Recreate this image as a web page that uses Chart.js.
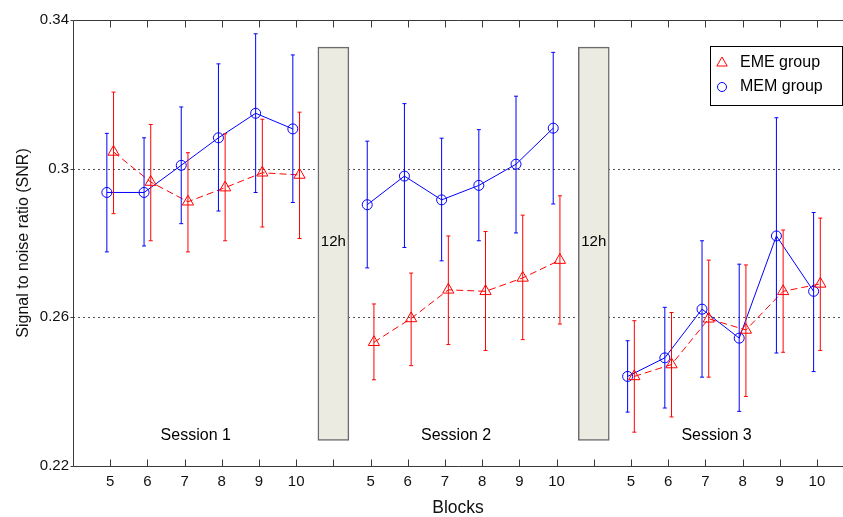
<!DOCTYPE html>
<html>
<head>
<meta charset="utf-8">
<script src="https://cdn.jsdelivr.net/npm/chart.js@4"></script>
<style>
  html, body { margin: 0; padding: 0; background: #fff; }
  #wrap { width: 843px; height: 517px; }
</style>
</head>
<body>
<div id="wrap"><canvas id="snrChart" width="843" height="517"></canvas></div>
<script>
// blocks per session and the tick labels along the x axis (gap ticks have no label)
const blocks = [5, 6, 7, 8, 9, 10];
const sessions = ["Session 1", "Session 2", "Session 3"];
const xTickLabels = ["5", "6", "7", "8", "9", "10", "", "5", "6", "7", "8", "9", "10", "", "5", "6", "7", "8", "9", "10"];
const yTickValues = [0.22, 0.26, 0.30, 0.34];
const yGridValues = [0.26, 0.30];

// MEM group (blue circles), sessions 1-3 one after another
const memMean  = [0.2936, 0.2936, 0.3009, 0.3083, 0.3149, 0.3107,  0.2903, 0.2980, 0.2916, 0.2955, 0.3012, 0.3109,  0.2441, 0.2491, 0.2622, 0.2544, 0.2819, 0.2670];
const memUpper = [0.3095, 0.3083, 0.3166, 0.3282, 0.3363, 0.3306,  0.3074, 0.3175, 0.3082, 0.3105, 0.3195, 0.3313,  0.2537, 0.2627, 0.2806, 0.2743, 0.3137, 0.2882];
const memLower = [0.2776, 0.2792, 0.2852, 0.2886, 0.2936, 0.2909,  0.2733, 0.2788, 0.2752, 0.2806, 0.2827, 0.2905,  0.2345, 0.2356, 0.2439, 0.2347, 0.2504, 0.2454];

// EME group (red triangles)
const emeMean  = [0.3045, 0.2964, 0.2911, 0.2949, 0.2989, 0.2983,  0.2533, 0.2597, 0.2674, 0.2670, 0.2706, 0.2754,  0.2441, 0.2473, 0.2596, 0.2566, 0.2670, 0.2690];
const emeUpper = [0.3206, 0.3119, 0.3043, 0.3094, 0.3133, 0.3152,  0.2636, 0.2719, 0.2819, 0.2831, 0.2875, 0.2927,  0.2591, 0.2613, 0.2754, 0.2741, 0.2835, 0.2867];
const emeLower = [0.2879, 0.2806, 0.2776, 0.2806, 0.2843, 0.2812,  0.2432, 0.2470, 0.2527, 0.2511, 0.2540, 0.2582,  0.2291, 0.2332, 0.2439, 0.2387, 0.2506, 0.2511];

// the two 12h breaks between sessions
const breakPos = [7, 14];
const breakLabel = "12h";
const breakRange = [0.2269, 0.3327];

const FONT = "'Liberation Sans', Arial, Helvetica, sans-serif";

// x position on the axis of a block inside a session
function xPos(s, b) {
    return s * 7 + b + 1;
}

function buildSeries(mean, low, high, shift) {
    const pts = [], lo = [], hi = [];
    for (let s = 0; s < sessions.length; s++) {
        for (let b = 0; b < blocks.length; b++) {
            const i = s * blocks.length + b;
            pts.push({ x: xPos(s, b) + shift, y: mean[i] });
            lo.push(low[i]);
            hi.push(high[i]);
        }
        if (s < sessions.length - 1) {
            // null point breaks the line between sessions
            pts.push({ x: breakPos[s], y: null });
            lo.push(null);
            hi.push(null);
        }
    }
    return { pts, lo, hi };
}

const eme = buildSeries(emeMean, emeLower, emeUpper, 0.09);
const mem = buildSeries(memMean, memLower, memUpper, -0.09);

// frame, dotted grid and inward ticks (MATLAB look)
const framePlugin = {
    id: "frame",
    beforeDatasetsDraw(chart) {
        const { ctx, chartArea: a, scales } = chart;
        ctx.save();
        ctx.strokeStyle = "#555";
        ctx.lineWidth = 1;
        ctx.setLineDash([2, 3]);
        yGridValues.forEach(v => {
            const y = Math.round(scales.y.getPixelForValue(v)) + 0.5;
            ctx.beginPath();
            ctx.moveTo(a.left, y);
            ctx.lineTo(a.right, y);
            ctx.stroke();
        });
        ctx.setLineDash([]);
        ctx.strokeStyle = "#3a3a3a";
        const top = Math.round(a.top) + 0.5, bot = Math.round(a.bottom) + 0.5, left = Math.round(a.left) + 0.5;
        ctx.beginPath();
        ctx.moveTo(a.right, top);
        ctx.lineTo(left, top);
        ctx.lineTo(left, bot);
        ctx.lineTo(a.right, bot);
        ctx.stroke();
        for (let i = 1; i <= xTickLabels.length; i++) {
            const x = Math.round(scales.x.getPixelForValue(i)) + 0.5;
            ctx.beginPath();
            ctx.moveTo(x, bot);
            ctx.lineTo(x, bot - 7);
            ctx.moveTo(x, top);
            ctx.lineTo(x, top + 7);
            ctx.stroke();
        }
        yTickValues.forEach(v => {
            const y = Math.round(scales.y.getPixelForValue(v)) + 0.5;
            ctx.beginPath();
            ctx.moveTo(left, y);
            ctx.lineTo(left - 3, y);
            ctx.stroke();
        });
        ctx.restore();
    },
    afterDatasetsDraw(chart) {
        const { ctx, scales } = chart;
        ctx.save();
        // error bars
        chart.data.datasets.forEach(ds => {
            if (!ds.errLow) return;
            ctx.strokeStyle = ds.borderColor;
            ctx.lineWidth = 1;
            ds.data.forEach((p, i) => {
                if (p.y === null) return;
                const x = scales.x.getPixelForValue(p.x);
                const y1 = scales.y.getPixelForValue(ds.errLow[i]);
                const y2 = scales.y.getPixelForValue(ds.errHigh[i]);
                ctx.beginPath();
                ctx.moveTo(x, y1);
                ctx.lineTo(x, y2);
                ctx.moveTo(x - 2, y1);
                ctx.lineTo(x + 2, y1);
                ctx.moveTo(x - 2, y2);
                ctx.lineTo(x + 2, y2);
                ctx.stroke();
            });
        });
        // 12h text in the break boxes
        ctx.fillStyle = "#000";
        ctx.font = "15px " + FONT;
        ctx.textAlign = "center";
        ctx.textBaseline = "middle";
        const mid = (breakRange[0] + breakRange[1]) / 2;
        breakPos.forEach(x => {
            ctx.fillText(breakLabel, scales.x.getPixelForValue(x), scales.y.getPixelForValue(mid) - 2);
        });
        // session names
        ctx.font = "16px " + FONT;
        sessions.forEach((name, s) => {
            ctx.fillText(name, scales.x.getPixelForValue(s * 7 + 3.3), 436);
        });
        // legend box
        ctx.fillStyle = "#fff";
        ctx.fillRect(710.5, 46.5, 132, 59);
        ctx.strokeStyle = "#000";
        ctx.lineWidth = 1;
        ctx.strokeRect(710.5, 46.5, 132, 59);
        const items = [
            { ds: chart.data.datasets[0], y: 63 },
            { ds: chart.data.datasets[1], y: 87 }
        ];
        items.forEach(it => {
            ctx.strokeStyle = it.ds.pointBorderColor;
            ctx.fillStyle = "rgba(0,0,0,0)";
            ctx.lineWidth = 1;
            Chart.helpers.drawPoint(ctx, {
                pointStyle: it.ds.pointStyle,
                radius: it.ds.pointRadius - 0.5,
                borderWidth: 1,
                rotation: 0
            }, 722, it.y);
        });
        ctx.textAlign = "left";
        ctx.fillStyle = "#000";
        ctx.font = "16px " + FONT;
        items.forEach(it => {
            ctx.fillText(it.ds.label, 740, it.y);
        });
        ctx.restore();
    }
};

new Chart(document.getElementById("snrChart"), {
    type: "line",
    data: {
        datasets: [
            {
                label: "EME group",
                data: eme.pts,
                errLow: eme.lo,
                errHigh: eme.hi,
                borderColor: "#ff0000",
                borderWidth: 1,
                borderDash: [7, 4],
                pointStyle: "triangle",
                pointRadius: 6.5,
                pointBorderWidth: 1,
                pointBorderColor: "#ff0000",
                pointBackgroundColor: "rgba(0,0,0,0)",
                spanGaps: false,
                tension: 0,
                order: 1
            },
            {
                label: "MEM group",
                data: mem.pts,
                errLow: mem.lo,
                errHigh: mem.hi,
                borderColor: "#0000ff",
                borderWidth: 1,
                pointStyle: "circle",
                pointRadius: 5,
                pointBorderWidth: 1,
                pointBorderColor: "#0000ff",
                pointBackgroundColor: "rgba(0,0,0,0)",
                spanGaps: false,
                tension: 0,
                order: 2
            },
            {
                type: "bar",
                label: breakLabel,
                data: breakPos.map(x => ({ x: x, y: breakRange })),
                backgroundColor: "#ecebe1",
                borderColor: "#6b6b6b",
                borderWidth: 1.5,
                borderSkipped: false,
                barThickness: 31,
                order: 3
            }
        ]
    },
    options: {
        responsive: false,
        animation: false,
        layout: { autoPadding: false, padding: { top: 20, right: 0, left: 0, bottom: 0 } },
        plugins: {
            legend: { display: false },
            tooltip: { enabled: false }
        },
        scales: {
            x: {
                type: "linear",
                min: 0,
                max: 20.7,
                offset: false,
                grid: { display: false, drawTicks: false, offset: false },
                border: { display: false },
                afterBuildTicks: scale => {
                    scale.ticks = xTickLabels.map((t, i) => ({ value: i + 1 }));
                },
                afterFit: scale => {
                    scale.height = 51;
                    scale.paddingLeft = 0;
                    scale.paddingRight = 0;
                },
                ticks: {
                    padding: 7,
                    maxRotation: 0,
                    autoSkip: false,
                    color: "#111",
                    font: { family: FONT, size: 15 },
                    callback: value => xTickLabels[Math.round(value) - 1] || ""
                },
                title: {
                    display: true,
                    text: "Blocks",
                    color: "#111",
                    font: { family: FONT, size: 17.5, lineHeight: 1 },
                    padding: { top: 0, bottom: 0 }
                }
            },
            y: {
                min: 0.22,
                max: 0.34,
                grid: { display: false, drawTicks: false },
                border: { display: false },
                afterBuildTicks: scale => {
                    scale.ticks = yTickValues.map(v => ({ value: v }));
                },
                afterFit: scale => {
                    scale.width = 73;
                    scale.paddingTop = 0;
                    scale.paddingBottom = 0;
                },
                ticks: {
                    padding: 4,
                    color: "#111",
                    font: { family: FONT, size: 15 },
                    callback: value => String(Number(value.toFixed(2)))
                },
                title: {
                    display: true,
                    text: "Signal to noise ratio (SNR)",
                    color: "#111",
                    font: { family: FONT, size: 16 },
                    padding: { top: 14, bottom: 0 }
                }
            }
        }
    },
    plugins: [framePlugin]
});
</script>
</body>
</html>
